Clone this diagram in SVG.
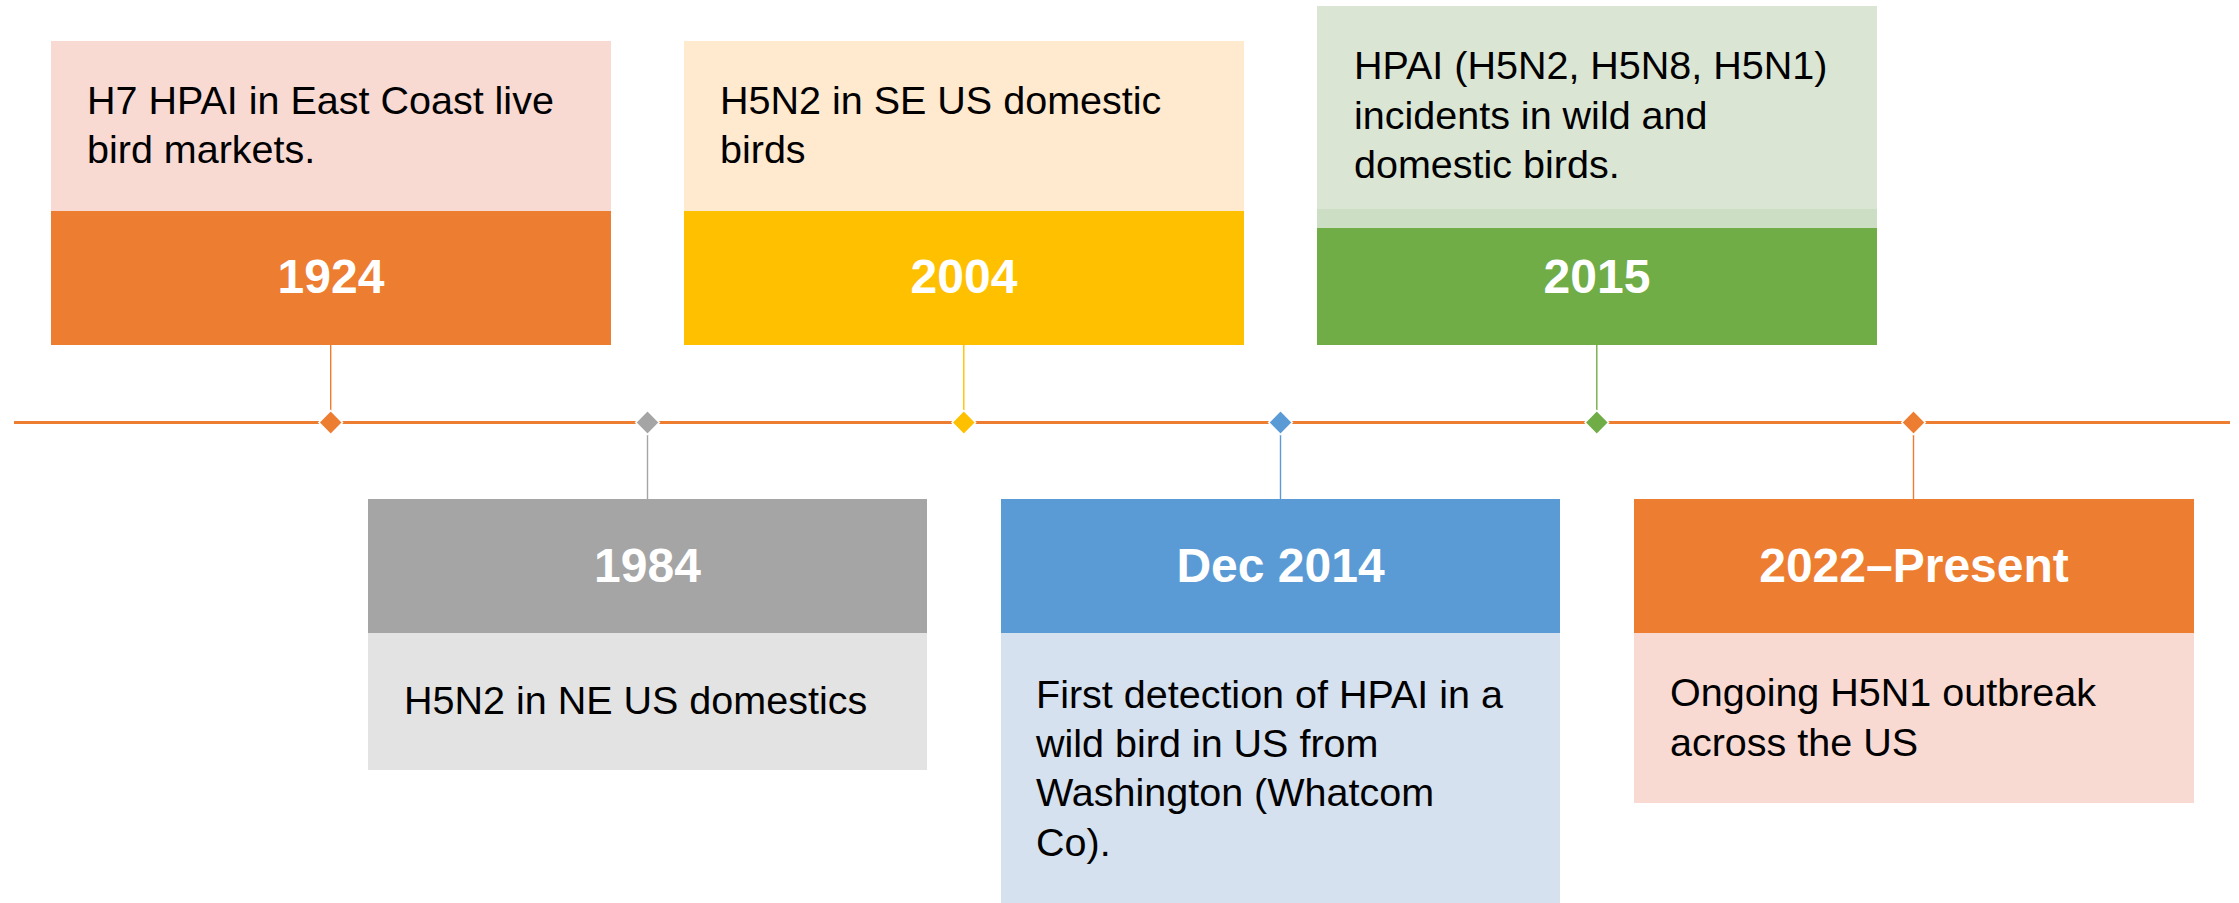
<svg xmlns="http://www.w3.org/2000/svg" width="2239" height="903" viewBox="0 0 2239 903">
<style>
  .body { font-family: "Liberation Sans", Arial, sans-serif; font-size: 39.5px; fill: #000000; }
  .year { font-family: "Liberation Sans", Arial, sans-serif; font-size: 48px; font-weight: bold; fill: #FFFFFF; text-anchor: middle; }
  .conn { stroke-width: 1.4; fill: none; }
  .dia { stroke: #FFFFFF; stroke-width: 1.5; }
</style>
<rect x="0" y="0" width="2239" height="903" fill="#FFFFFF"/>

<g id="connectors">
  <line x1="14" y1="422.5" x2="2230" y2="422.5" stroke="#ED7D31" stroke-width="2.8"/>
  <line class="conn" x1="330.7" y1="345" x2="330.7" y2="411" stroke="#ED7D31"/>
  <line class="conn" x1="647.5" y1="434" x2="647.5" y2="499" stroke="#A5A5A5"/>
  <line class="conn" x1="963.8" y1="345" x2="963.8" y2="411" stroke="#FFC000"/>
  <line class="conn" x1="1280.5" y1="434" x2="1280.5" y2="499" stroke="#5B9BD5"/>
  <line class="conn" x1="1596.8" y1="345" x2="1596.8" y2="411" stroke="#70AD47"/>
  <line class="conn" x1="1913.5" y1="434" x2="1913.5" y2="499" stroke="#ED7D31"/>
</g>

<g id="markers">
  <polygon class="dia" fill="#ED7D31" points="330.7,410.5 342.5,422.5 330.7,434.5 318.9,422.5"/>
  <polygon class="dia" fill="#A5A5A5" points="647.5,410.5 659.3,422.5 647.5,434.5 635.7,422.5"/>
  <polygon class="dia" fill="#FFC000" points="963.8,410.5 975.6,422.5 963.8,434.5 952,422.5"/>
  <polygon class="dia" fill="#5B9BD5" points="1280.5,410.5 1292.3,422.5 1280.5,434.5 1268.7,422.5"/>
  <polygon class="dia" fill="#70AD47" points="1596.8,410.5 1608.6,422.5 1596.8,434.5 1585,422.5"/>
  <polygon class="dia" fill="#ED7D31" points="1913.5,410.5 1925.3,422.5 1913.5,434.5 1901.7,422.5"/>
</g>

<g id="node-1924">
  <rect x="51" y="41" width="560" height="170" fill="#F8DAD3"/>
  <rect x="51" y="211" width="560" height="134" fill="#ED7D31"/>
  <text class="body" x="87" y="114">H7 HPAI in East Coast live</text>
  <text class="body" x="87" y="163">bird markets.</text>
  <text class="year" x="331" y="293">1924</text>
</g>

<g id="node-2004">
  <rect x="684" y="41" width="560" height="170" fill="#FFE9CF"/>
  <rect x="684" y="211" width="560" height="134" fill="#FFC000"/>
  <text class="body" x="720" y="114">H5N2 in SE US domestic</text>
  <text class="body" x="720" y="163">birds</text>
  <text class="year" x="964" y="293">2004</text>
</g>

<g id="node-2015">
  <rect x="1317" y="6" width="560" height="203" fill="#DAE5D4"/>
  <rect x="1317" y="209" width="560" height="19" fill="#CCDEC4"/>
  <rect x="1317" y="228" width="560" height="117" fill="#70AD47"/>
  <text class="body" x="1354" y="79">HPAI (H5N2, H5N8, H5N1)</text>
  <text class="body" x="1354" y="129">incidents in wild and</text>
  <text class="body" x="1354" y="178">domestic birds.</text>
  <text class="year" x="1597" y="293">2015</text>
</g>

<g id="node-1984">
  <rect x="368" y="499" width="559" height="134" fill="#A5A5A5"/>
  <rect x="368" y="633" width="559" height="137" fill="#E3E3E3"/>
  <text class="year" x="647.5" y="582">1984</text>
  <text class="body" x="404" y="714">H5N2 in NE US domestics</text>
</g>

<g id="node-dec2014">
  <rect x="1001" y="499" width="559" height="134" fill="#5B9BD5"/>
  <rect x="1001" y="633" width="559" height="270" fill="#D5E1EF"/>
  <text class="year" x="1280.5" y="582">Dec 2014</text>
  <text class="body" x="1036" y="708">First detection of HPAI in a</text>
  <text class="body" x="1036" y="757">wild bird in US from</text>
  <text class="body" x="1036" y="806">Washington (Whatcom</text>
  <text class="body" x="1036" y="856">Co).</text>
</g>

<g id="node-2022">
  <rect x="1634" y="499" width="560" height="134" fill="#ED7D31"/>
  <rect x="1634" y="633" width="560" height="170" fill="#F8DAD3"/>
  <text class="year" x="1914" y="582">2022–Present</text>
  <text class="body" x="1670" y="706">Ongoing H5N1 outbreak</text>
  <text class="body" x="1670" y="756">across the US</text>
</g>
</svg>
